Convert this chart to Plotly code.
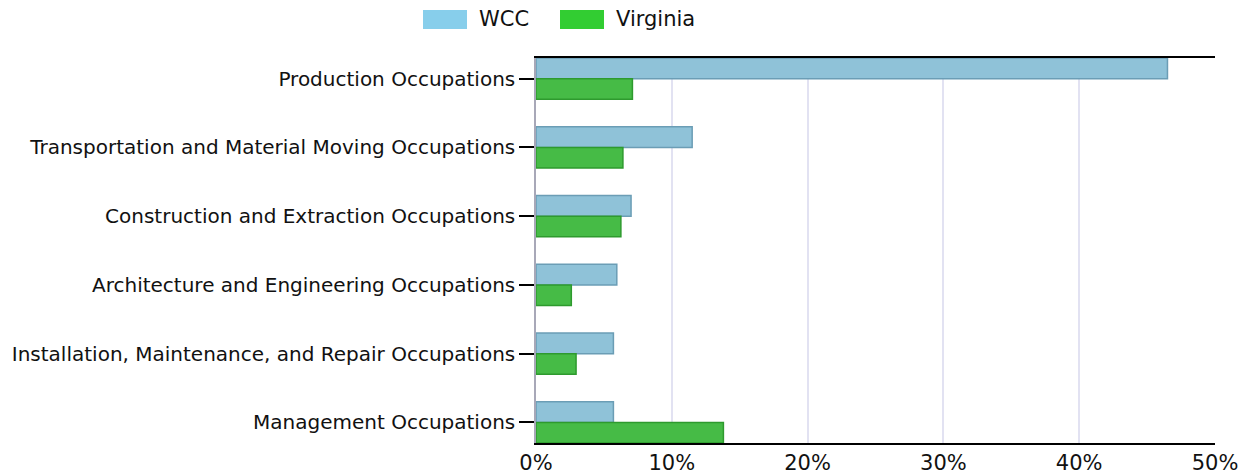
import plotly.graph_objects as go

categories = [
    "Production Occupations",
    "Transportation and Material Moving Occupations",
    "Construction and Extraction Occupations",
    "Architecture and Engineering Occupations",
    "Installation, Maintenance, and Repair Occupations",
    "Management Occupations",
]
series_names = ["WCC", "Virginia"]
wcc_values = [46.5, 11.5, 7.0, 5.95, 5.7, 5.7]
virginia_values = [7.1, 6.4, 6.25, 2.6, 2.95, 13.8]
x_tick_vals = [0, 10, 20, 30, 40, 50]
x_tick_text = ["0%", "10%", "20%", "30%", "40%", "50%"]

bar_fill = ["#8fc2d8", "#46bb46"]
bar_edge = ["#6b9db5", "#2e9a2e"]
legend_fill = ["#87CEEB", "#32CD32"]

FONT = "DejaVu Sans, Verdana, sans-serif"

PL, PR, PT, PB = 536, 1215, 58, 443
W, H = 1251, 475

fig = go.Figure()
for name, vals, fc, ec in zip(series_names, [wcc_values, virginia_values], bar_fill, bar_edge):
    fig.add_trace(go.Bar(
        y=categories, x=vals, name=name, orientation="h",
        marker=dict(color=fc, line=dict(color=ec, width=1.5)),
        showlegend=False,
    ))

legend_x = [(423, 467, 477), (560, 604, 614)]
for (x0, x1, tx), name, col in zip(legend_x, series_names, legend_fill):
    fig.add_shape(type="rect", xref="paper", yref="paper",
                  x0=(x0 - PL) / (PR - PL), x1=(x1 - PL) / (PR - PL),
                  y0=(PB - 29) / (PB - PT), y1=(PB - 10) / (PB - PT),
                  fillcolor=col, line=dict(width=0))
    fig.add_annotation(xref="paper", yref="paper",
                       x=(tx - PL) / (PR - PL), y=(PB - 19.5) / (PB - PT),
                       text=name, showarrow=False, xanchor="left", yanchor="middle",
                       font=dict(family=FONT, size=21, color="#111111"))

fig.update_layout(
    width=W, height=H,
    margin=dict(l=PL, r=W - PR, t=PT, b=H - PB, pad=0),
    barmode="group", bargap=0.40, bargroupgap=0,
    plot_bgcolor="white", paper_bgcolor="white",
    font=dict(family=FONT, size=20, color="#111111"),
)
fig.update_xaxes(
    range=[0, 50], tickvals=x_tick_vals, ticktext=x_tick_text,
    tickfont=dict(size=21), automargin=False,
    showgrid=True, gridcolor="#e2e2f2", gridwidth=2,
    showline=True, linecolor="#000000", linewidth=2, mirror=True,
    ticks="", zeroline=False,
)
fig.update_yaxes(
    range=[len(categories) - 1 + 0.3, -0.3], automargin=False,
    showline=True, linecolor="#a8a8b8", linewidth=1.5,
    ticks="outside", ticklen=15, tickwidth=2, tickcolor="#000000",
    showgrid=False,
)
fig.write_html("out.html", config={"displayModeBar": False},
               post_script="document.body.style.margin='0';")
